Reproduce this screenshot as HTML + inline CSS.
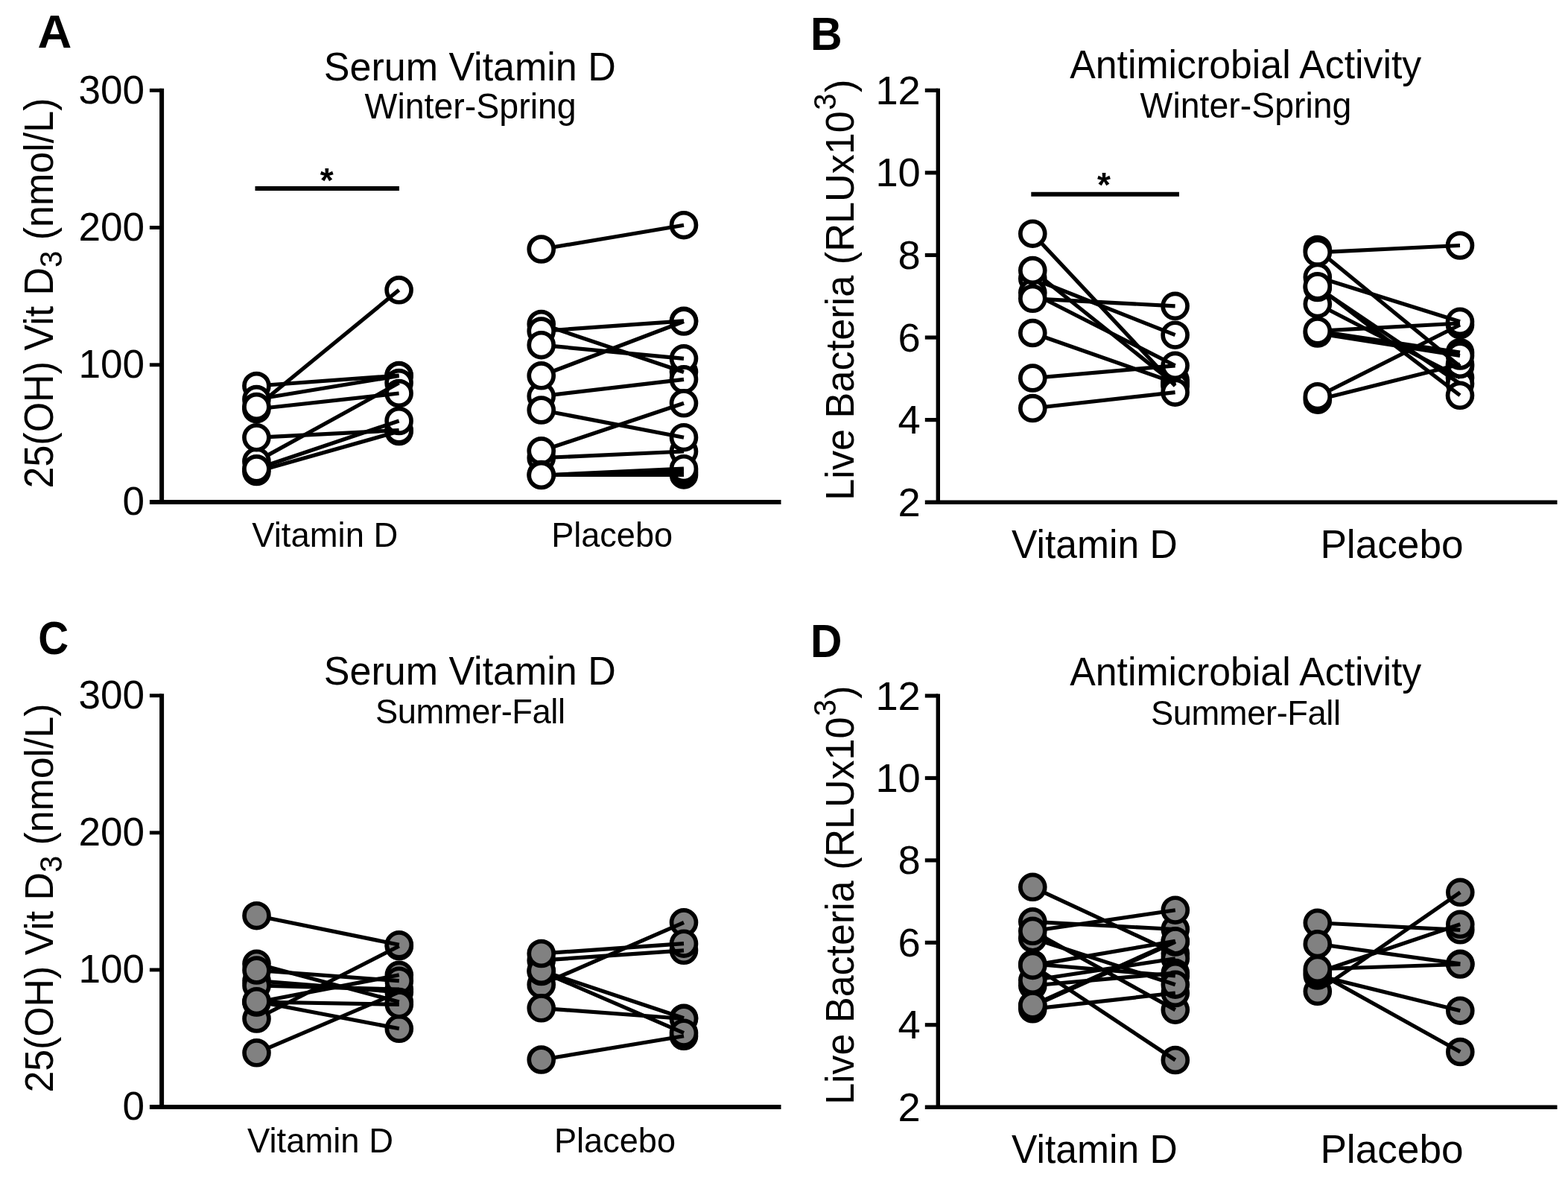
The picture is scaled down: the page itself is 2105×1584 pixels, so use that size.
<!DOCTYPE html>
<html lang="en"><head><meta charset="utf-8"><title>Serum Vitamin D and Antimicrobial Activity</title>
<style>html,body{margin:0;padding:0;background:#fff;}body{width:2105px;height:1584px;overflow:hidden;}svg{display:block;}text{font-family:'Liberation Sans', Arial, Helvetica, sans-serif;fill:#000;}</style></head><body>
<svg width="2105" height="1584" viewBox="0 0 2105 1584">
<rect x="0" y="0" width="2105" height="1584" fill="#ffffff"/>
<text transform="translate(50.6 64.2) scale(1.058 1.055)" font-size="60" text-anchor="start" font-weight="bold">A</text>
<text transform="translate(630.8 107.5) scale(1 1.03)" font-size="52" text-anchor="middle">Serum Vitamin D</text>
<text transform="translate(631.6 159.2) scale(1 1.02)" font-size="46.5" text-anchor="middle">Winter-Spring</text>
<g stroke="#000" fill="none" stroke-linecap="butt">
<line x1="217.1" y1="118.85" x2="217.1" y2="677" stroke-width="6"/>
<line x1="200.9" y1="674" x2="1048.5" y2="674" stroke-width="6"/>
<line x1="200.9" y1="121.3" x2="217.1" y2="121.3" stroke-width="4.9"/>
<line x1="200.9" y1="305.53" x2="217.1" y2="305.53" stroke-width="4.9"/>
<line x1="200.9" y1="489.77" x2="217.1" y2="489.77" stroke-width="4.9"/>
</g>
<text transform="translate(194.1 138.6)" font-size="53.1" text-anchor="end">300</text>
<text transform="translate(194.1 322.83)" font-size="53.1" text-anchor="end">200</text>
<text transform="translate(194.1 507.07)" font-size="53.1" text-anchor="end">100</text>
<text transform="translate(194.1 691.3)" font-size="53.1" text-anchor="end">0</text>
<text transform="translate(70.7 393.5) rotate(-90) scale(1 1.05)" font-size="52" text-anchor="middle">25(OH) Vit D<tspan font-size="40" dy="11.81">3</tspan><tspan dy="-11.81"> (nmol/L)</tspan></text>
<text transform="translate(436.3 733.5) scale(1 1.025)" font-size="45.4" text-anchor="middle">Vitamin D</text>
<text transform="translate(821.6 733.5) scale(1 1.01)" font-size="45.1" text-anchor="middle">Placebo</text>
<g stroke="#000" stroke-width="5.7" fill="#ffffff">
<circle cx="535.6" cy="389.3" r="16.45"/>
<circle cx="535.6" cy="504" r="16.45"/>
<circle cx="535.6" cy="504.5" r="16.45"/>
<circle cx="535.6" cy="514" r="16.45"/>
<circle cx="535.6" cy="528" r="16.45"/>
<circle cx="535.6" cy="579" r="16.45"/>
<circle cx="535.6" cy="577.5" r="16.45"/>
<circle cx="535.6" cy="565" r="16.45"/>
</g>
<g stroke="#000" stroke-width="5.2" fill="none" stroke-linecap="butt">
<line x1="344.4" y1="518" x2="535.6" y2="504"/>
<line x1="344.4" y1="546" x2="535.6" y2="389.3"/>
<line x1="344.4" y1="536" x2="535.6" y2="504.5"/>
<line x1="344.4" y1="549" x2="535.6" y2="528"/>
<line x1="344.4" y1="587.3" x2="535.6" y2="577.5"/>
<line x1="344.4" y1="619.4" x2="535.6" y2="514"/>
<line x1="344.4" y1="629.3" x2="535.6" y2="565"/>
<line x1="344.4" y1="633" x2="535.6" y2="579"/>
</g>
<g stroke="#000" stroke-width="5.7" fill="#ffffff">
<circle cx="344.4" cy="518" r="16.45"/>
<circle cx="344.4" cy="536" r="16.45"/>
<circle cx="344.4" cy="549" r="16.45"/>
<circle cx="344.4" cy="546" r="16.45"/>
<circle cx="344.4" cy="619.4" r="16.45"/>
<circle cx="344.4" cy="587.3" r="16.45"/>
<circle cx="344.4" cy="633" r="16.45"/>
<circle cx="344.4" cy="629.3" r="16.45"/>
</g>
<g stroke="#000" stroke-width="5.7" fill="#ffffff">
<circle cx="918" cy="302.2" r="16.45"/>
<circle cx="918" cy="430.8" r="16.45"/>
<circle cx="918" cy="431.5" r="16.45"/>
<circle cx="918" cy="499.5" r="16.45"/>
<circle cx="918" cy="481.3" r="16.45"/>
<circle cx="918" cy="509.3" r="16.45"/>
<circle cx="918" cy="541.3" r="16.45"/>
<circle cx="918" cy="606" r="16.45"/>
<circle cx="918" cy="587.2" r="16.45"/>
<circle cx="918" cy="637.4" r="16.45"/>
<circle cx="918" cy="633.4" r="16.45"/>
<circle cx="918" cy="629.2" r="16.45"/>
</g>
<g stroke="#000" stroke-width="5.2" fill="none" stroke-linecap="butt">
<line x1="726.7" y1="334.5" x2="918" y2="302.2"/>
<line x1="726.7" y1="444.5" x2="918" y2="430.8"/>
<line x1="726.7" y1="435" x2="918" y2="499.5"/>
<line x1="726.7" y1="463.2" x2="918" y2="481.3"/>
<line x1="726.7" y1="504.3" x2="918" y2="431.5"/>
<line x1="726.7" y1="531.8" x2="918" y2="509.3"/>
<line x1="726.7" y1="550.5" x2="918" y2="587.2"/>
<line x1="726.7" y1="605.3" x2="918" y2="541.3"/>
<line x1="726.7" y1="614.7" x2="918" y2="606"/>
<line x1="726.7" y1="638" x2="918" y2="629.2"/>
<line x1="726.7" y1="638" x2="918" y2="633.4"/>
<line x1="726.7" y1="637.5" x2="918" y2="637.4"/>
</g>
<g stroke="#000" stroke-width="5.7" fill="#ffffff">
<circle cx="726.7" cy="334.5" r="16.45"/>
<circle cx="726.7" cy="435" r="16.45"/>
<circle cx="726.7" cy="444.5" r="16.45"/>
<circle cx="726.7" cy="463.2" r="16.45"/>
<circle cx="726.7" cy="531.8" r="16.45"/>
<circle cx="726.7" cy="504.3" r="16.45"/>
<circle cx="726.7" cy="550.5" r="16.45"/>
<circle cx="726.7" cy="614.7" r="16.45"/>
<circle cx="726.7" cy="605.3" r="16.45"/>
<circle cx="726.7" cy="637" r="16.45"/>
<circle cx="726.7" cy="638" r="16.45"/>
</g>
<line x1="342.5" y1="253.1" x2="536" y2="253.1" stroke="#000" stroke-width="6"/>
<text transform="translate(438.8 257.5)" font-size="46" text-anchor="middle" font-weight="bold">*</text>
<text transform="translate(1088.05 67.25) scale(0.983 1.048)" font-size="60" text-anchor="start" font-weight="bold">B</text>
<text transform="translate(1672.2 105) scale(1 1.03)" font-size="51.8" text-anchor="middle">Antimicrobial Activity</text>
<text transform="translate(1672.5 157.85) scale(1 1.02)" font-size="46.45" text-anchor="middle">Winter-Spring</text>
<g stroke="#000" fill="none" stroke-linecap="butt">
<line x1="1259.3" y1="118.7" x2="1259.3" y2="676.9" stroke-width="5.4"/>
<line x1="1241.8" y1="674.2" x2="2090.5" y2="674.2" stroke-width="5.4"/>
<line x1="1241.8" y1="121.3" x2="1259.3" y2="121.3" stroke-width="5.2"/>
<line x1="1241.8" y1="231.88" x2="1259.3" y2="231.88" stroke-width="5.2"/>
<line x1="1241.8" y1="342.46" x2="1259.3" y2="342.46" stroke-width="5.2"/>
<line x1="1241.8" y1="453.04" x2="1259.3" y2="453.04" stroke-width="5.2"/>
<line x1="1241.8" y1="563.62" x2="1259.3" y2="563.62" stroke-width="5.2"/>
</g>
<text transform="translate(1235.8 139.9)" font-size="54.3" text-anchor="end">12</text>
<text transform="translate(1235.8 250.48)" font-size="54.3" text-anchor="end">10</text>
<text transform="translate(1235.8 361.06)" font-size="54.3" text-anchor="end">8</text>
<text transform="translate(1235.8 471.64)" font-size="54.3" text-anchor="end">6</text>
<text transform="translate(1235.8 582.22)" font-size="54.3" text-anchor="end">4</text>
<text transform="translate(1235.8 692.8)" font-size="54.3" text-anchor="end">2</text>
<text transform="translate(1146.4 389.2) rotate(-90) scale(1 1.04)" font-size="52.25" text-anchor="middle">Live Bacteria (RLUx10<tspan font-size="40" dx="1.4" dy="-23.37">3</tspan><tspan dx="1.4" dy="23.37">)</tspan></text>
<text transform="translate(1469.4 749.15) scale(1 1.03)" font-size="51.6" text-anchor="middle">Vitamin D</text>
<text transform="translate(1868.5 749.15)" font-size="53.2" text-anchor="middle">Placebo</text>
<g stroke="#000" stroke-width="5.7" fill="#ffffff">
<circle cx="1577.6" cy="410.8" r="16.45"/>
<circle cx="1577.6" cy="449.7" r="16.45"/>
<circle cx="1577.6" cy="510" r="16.45"/>
<circle cx="1577.6" cy="514" r="16.45"/>
<circle cx="1577.6" cy="516" r="16.45"/>
<circle cx="1577.6" cy="518" r="16.45"/>
<circle cx="1577.6" cy="490.8" r="16.45"/>
<circle cx="1577.6" cy="526.7" r="16.45"/>
</g>
<g stroke="#000" stroke-width="5.2" fill="none" stroke-linecap="butt">
<line x1="1386.3" y1="313.7" x2="1577.6" y2="518"/>
<line x1="1386.3" y1="363" x2="1577.6" y2="516"/>
<line x1="1386.3" y1="374" x2="1577.6" y2="449.7"/>
<line x1="1386.3" y1="393.5" x2="1577.6" y2="490.8"/>
<line x1="1386.3" y1="400.8" x2="1577.6" y2="410.8"/>
<line x1="1386.3" y1="447" x2="1577.6" y2="514"/>
<line x1="1386.3" y1="507.5" x2="1577.6" y2="490.8"/>
<line x1="1386.3" y1="548" x2="1577.6" y2="526.7"/>
</g>
<g stroke="#000" stroke-width="5.7" fill="#ffffff">
<circle cx="1386.3" cy="313.7" r="16.45"/>
<circle cx="1386.3" cy="374" r="16.45"/>
<circle cx="1386.3" cy="393" r="16.45"/>
<circle cx="1386.3" cy="363" r="16.45"/>
<circle cx="1386.3" cy="400.8" r="16.45"/>
<circle cx="1386.3" cy="447" r="16.45"/>
<circle cx="1386.3" cy="507.5" r="16.45"/>
<circle cx="1386.3" cy="548" r="16.45"/>
</g>
<g stroke="#000" stroke-width="5.7" fill="#ffffff">
<circle cx="1960" cy="329.5" r="16.45"/>
<circle cx="1960" cy="436" r="16.45"/>
<circle cx="1960" cy="431.8" r="16.45"/>
<circle cx="1960" cy="473" r="16.45"/>
<circle cx="1960" cy="491.7" r="16.45"/>
<circle cx="1960" cy="506.7" r="16.45"/>
<circle cx="1960" cy="515" r="16.45"/>
<circle cx="1960" cy="489" r="16.45"/>
<circle cx="1960" cy="477.5" r="16.45"/>
<circle cx="1960" cy="530.8" r="16.45"/>
</g>
<g stroke="#000" stroke-width="5.2" fill="none" stroke-linecap="butt">
<line x1="1768.8" y1="338.8" x2="1960" y2="329.5"/>
<line x1="1768.8" y1="335" x2="1960" y2="491.7"/>
<line x1="1768.8" y1="371.9" x2="1960" y2="431.8"/>
<line x1="1768.8" y1="384.4" x2="1960" y2="530.8"/>
<line x1="1768.8" y1="386" x2="1960" y2="515"/>
<line x1="1768.8" y1="408.1" x2="1960" y2="506.7"/>
<line x1="1768.8" y1="444.4" x2="1960" y2="434"/>
<line x1="1768.8" y1="444.4" x2="1960" y2="473"/>
<line x1="1768.8" y1="447.5" x2="1960" y2="477.5"/>
<line x1="1768.8" y1="532.2" x2="1960" y2="436"/>
<line x1="1768.8" y1="536.7" x2="1960" y2="489"/>
</g>
<g stroke="#000" stroke-width="5.7" fill="#ffffff">
<circle cx="1768.8" cy="335" r="16.45"/>
<circle cx="1768.8" cy="338.8" r="16.45"/>
<circle cx="1768.8" cy="371.9" r="16.45"/>
<circle cx="1768.8" cy="408.1" r="16.45"/>
<circle cx="1768.8" cy="386" r="16.45"/>
<circle cx="1768.8" cy="384.4" r="16.45"/>
<circle cx="1768.8" cy="447.5" r="16.45"/>
<circle cx="1768.8" cy="444.4" r="16.45"/>
<circle cx="1768.8" cy="536.7" r="16.45"/>
<circle cx="1768.8" cy="532.2" r="16.45"/>
</g>
<line x1="1384.3" y1="260.7" x2="1583" y2="260.7" stroke="#000" stroke-width="6"/>
<text transform="translate(1482 264)" font-size="46" text-anchor="middle" font-weight="bold">*</text>
<text transform="translate(51.35 877.5) scale(0.943 1.05)" font-size="60" text-anchor="start" font-weight="bold">C</text>
<text transform="translate(630.8 919) scale(1 1.03)" font-size="52" text-anchor="middle">Serum Vitamin D</text>
<text transform="translate(631.3 971.4) scale(1 1.02)" font-size="45.3" text-anchor="middle" letter-spacing="-0.4">Summer-Fall</text>
<g stroke="#000" fill="none" stroke-linecap="butt">
<line x1="217.1" y1="931.3" x2="217.1" y2="1489" stroke-width="6"/>
<line x1="200.9" y1="1486" x2="1048.5" y2="1486" stroke-width="6"/>
<line x1="200.9" y1="933.75" x2="217.1" y2="933.75" stroke-width="4.9"/>
<line x1="200.9" y1="1117.83" x2="217.1" y2="1117.83" stroke-width="4.9"/>
<line x1="200.9" y1="1301.92" x2="217.1" y2="1301.92" stroke-width="4.9"/>
</g>
<text transform="translate(194.1 951.05)" font-size="53.1" text-anchor="end">300</text>
<text transform="translate(194.1 1135.13)" font-size="53.1" text-anchor="end">200</text>
<text transform="translate(194.1 1319.22)" font-size="53.1" text-anchor="end">100</text>
<text transform="translate(194.1 1503.3)" font-size="53.1" text-anchor="end">0</text>
<text transform="translate(70.7 1205.5) rotate(-90) scale(1 1.05)" font-size="51.8" text-anchor="middle">25(OH) Vit D<tspan font-size="40" dy="11.81">3</tspan><tspan dy="-11.81"> (nmol/L)</tspan></text>
<text transform="translate(430 1546.5) scale(1 1.025)" font-size="45.4" text-anchor="middle">Vitamin D</text>
<text transform="translate(825.5 1546.5) scale(1 1.01)" font-size="45.1" text-anchor="middle">Placebo</text>
<g stroke="#000" stroke-width="5.7" fill="#818181">
<circle cx="535.8" cy="1270" r="16.45"/>
<circle cx="535.8" cy="1268.3" r="16.45"/>
<circle cx="535.8" cy="1308.8" r="16.45"/>
<circle cx="535.8" cy="1331.7" r="16.45"/>
<circle cx="535.8" cy="1328" r="16.45"/>
<circle cx="535.8" cy="1316.7" r="16.45"/>
<circle cx="535.8" cy="1345" r="16.45"/>
<circle cx="535.8" cy="1380.8" r="16.45"/>
<circle cx="535.8" cy="1348.3" r="16.45"/>
</g>
<g stroke="#000" stroke-width="5.2" fill="none" stroke-linecap="butt">
<line x1="344.5" y1="1229.2" x2="535.8" y2="1268.3"/>
<line x1="344.5" y1="1367.5" x2="535.8" y2="1270"/>
<line x1="344.5" y1="1413.3" x2="535.8" y2="1331.7"/>
<line x1="344.5" y1="1344.2" x2="535.8" y2="1380.8"/>
<line x1="344.5" y1="1345" x2="535.8" y2="1348.3"/>
<line x1="344.5" y1="1345.5" x2="535.8" y2="1308.8"/>
<line x1="344.5" y1="1302.5" x2="535.8" y2="1316.7"/>
<line x1="344.5" y1="1293.8" x2="535.8" y2="1345"/>
<line x1="344.5" y1="1316.7" x2="535.8" y2="1331.7"/>
<line x1="344.5" y1="1323" x2="535.8" y2="1328"/>
</g>
<g stroke="#000" stroke-width="5.7" fill="#818181">
<circle cx="344.5" cy="1229.2" r="16.45"/>
<circle cx="344.5" cy="1293.8" r="16.45"/>
<circle cx="344.5" cy="1316.7" r="16.45"/>
<circle cx="344.5" cy="1323" r="16.45"/>
<circle cx="344.5" cy="1302.5" r="16.45"/>
<circle cx="344.5" cy="1367.5" r="16.45"/>
<circle cx="344.5" cy="1345.5" r="16.45"/>
<circle cx="344.5" cy="1345" r="16.45"/>
<circle cx="344.5" cy="1344.2" r="16.45"/>
<circle cx="344.5" cy="1413.3" r="16.45"/>
</g>
<g stroke="#000" stroke-width="5.7" fill="#818181">
<circle cx="918" cy="1238.3" r="16.45"/>
<circle cx="918" cy="1275.8" r="16.45"/>
<circle cx="918" cy="1266.7" r="16.45"/>
<circle cx="918" cy="1366.7" r="16.45"/>
<circle cx="918" cy="1367.5" r="16.45"/>
<circle cx="918" cy="1390.8" r="16.45"/>
<circle cx="918" cy="1386.7" r="16.45"/>
</g>
<g stroke="#000" stroke-width="5.2" fill="none" stroke-linecap="butt">
<line x1="726.7" y1="1280" x2="918" y2="1266.7"/>
<line x1="726.7" y1="1289.2" x2="918" y2="1275.8"/>
<line x1="726.7" y1="1321.7" x2="918" y2="1238.3"/>
<line x1="726.7" y1="1303" x2="918" y2="1366.7"/>
<line x1="726.7" y1="1304" x2="918" y2="1386.7"/>
<line x1="726.7" y1="1353.3" x2="918" y2="1367.5"/>
<line x1="726.7" y1="1422.5" x2="918" y2="1390.8"/>
</g>
<g stroke="#000" stroke-width="5.7" fill="#818181">
<circle cx="726.7" cy="1321.7" r="16.45"/>
<circle cx="726.7" cy="1289.2" r="16.45"/>
<circle cx="726.7" cy="1304" r="16.45"/>
<circle cx="726.7" cy="1303" r="16.45"/>
<circle cx="726.7" cy="1280" r="16.45"/>
<circle cx="726.7" cy="1353.3" r="16.45"/>
<circle cx="726.7" cy="1422.5" r="16.45"/>
</g>
<text transform="translate(1088.05 881.7) scale(0.98 1.05)" font-size="60" text-anchor="start" font-weight="bold">D</text>
<text transform="translate(1672.2 920.3) scale(1 1.03)" font-size="51.8" text-anchor="middle">Antimicrobial Activity</text>
<text transform="translate(1672.3 972.7) scale(1 1.03)" font-size="45.3" text-anchor="middle" letter-spacing="-0.4">Summer-Fall</text>
<g stroke="#000" fill="none" stroke-linecap="butt">
<line x1="1259.3" y1="931.4" x2="1259.3" y2="1488.9" stroke-width="5.4"/>
<line x1="1241.8" y1="1486.2" x2="2090.5" y2="1486.2" stroke-width="5.4"/>
<line x1="1241.8" y1="934" x2="1259.3" y2="934" stroke-width="5.2"/>
<line x1="1241.8" y1="1044.44" x2="1259.3" y2="1044.44" stroke-width="5.2"/>
<line x1="1241.8" y1="1154.88" x2="1259.3" y2="1154.88" stroke-width="5.2"/>
<line x1="1241.8" y1="1265.32" x2="1259.3" y2="1265.32" stroke-width="5.2"/>
<line x1="1241.8" y1="1375.76" x2="1259.3" y2="1375.76" stroke-width="5.2"/>
</g>
<text transform="translate(1235.8 952.6)" font-size="54.3" text-anchor="end">12</text>
<text transform="translate(1235.8 1063.04)" font-size="54.3" text-anchor="end">10</text>
<text transform="translate(1235.8 1173.48)" font-size="54.3" text-anchor="end">8</text>
<text transform="translate(1235.8 1283.92)" font-size="54.3" text-anchor="end">6</text>
<text transform="translate(1235.8 1394.36)" font-size="54.3" text-anchor="end">4</text>
<text transform="translate(1235.8 1504.8)" font-size="54.3" text-anchor="end">2</text>
<text transform="translate(1146.4 1201.6) rotate(-90) scale(1 1.04)" font-size="52" text-anchor="middle">Live Bacteria (RLUx10<tspan font-size="40" dx="1.4" dy="-23.37">3</tspan><tspan dx="1.4" dy="23.37">)</tspan></text>
<text transform="translate(1469.4 1560.9) scale(1 1.03)" font-size="51.6" text-anchor="middle">Vitamin D</text>
<text transform="translate(1868.5 1560.9)" font-size="53.2" text-anchor="middle">Placebo</text>
<g stroke="#000" stroke-width="5.7" fill="#818181">
<circle cx="1577.8" cy="1247.5" r="16.45"/>
<circle cx="1577.8" cy="1221.7" r="16.45"/>
<circle cx="1577.8" cy="1280" r="16.45"/>
<circle cx="1577.8" cy="1286.7" r="16.45"/>
<circle cx="1577.8" cy="1264.5" r="16.45"/>
<circle cx="1577.8" cy="1263.3" r="16.45"/>
<circle cx="1577.8" cy="1355.6" r="16.45"/>
<circle cx="1577.8" cy="1306" r="16.45"/>
<circle cx="1577.8" cy="1310" r="16.45"/>
<circle cx="1577.8" cy="1333" r="16.45"/>
<circle cx="1577.8" cy="1321.7" r="16.45"/>
<circle cx="1577.8" cy="1423" r="16.45"/>
</g>
<g stroke="#000" stroke-width="5.2" fill="none" stroke-linecap="butt">
<line x1="1386.3" y1="1190.8" x2="1577.8" y2="1280"/>
<line x1="1386.3" y1="1237.3" x2="1577.8" y2="1247.5"/>
<line x1="1386.3" y1="1249.8" x2="1577.8" y2="1221.7"/>
<line x1="1386.3" y1="1249.8" x2="1577.8" y2="1355.6"/>
<line x1="1386.3" y1="1259.5" x2="1577.8" y2="1321.7"/>
<line x1="1386.3" y1="1295.9" x2="1577.8" y2="1263.3"/>
<line x1="1386.3" y1="1294" x2="1577.8" y2="1310"/>
<line x1="1386.3" y1="1315.8" x2="1577.8" y2="1286.7"/>
<line x1="1386.3" y1="1295.9" x2="1577.8" y2="1423"/>
<line x1="1386.3" y1="1323" x2="1577.8" y2="1306"/>
<line x1="1386.3" y1="1349.3" x2="1577.8" y2="1263.3"/>
<line x1="1386.3" y1="1351" x2="1577.8" y2="1264.5"/>
<line x1="1386.3" y1="1354.3" x2="1577.8" y2="1333"/>
</g>
<g stroke="#000" stroke-width="5.7" fill="#818181">
<circle cx="1386.3" cy="1190.8" r="16.45"/>
<circle cx="1386.3" cy="1237.3" r="16.45"/>
<circle cx="1386.3" cy="1259.5" r="16.45"/>
<circle cx="1386.3" cy="1249.8" r="16.45"/>
<circle cx="1386.3" cy="1323" r="16.45"/>
<circle cx="1386.3" cy="1315.8" r="16.45"/>
<circle cx="1386.3" cy="1294" r="16.45"/>
<circle cx="1386.3" cy="1295.9" r="16.45"/>
<circle cx="1386.3" cy="1354.3" r="16.45"/>
<circle cx="1386.3" cy="1351" r="16.45"/>
<circle cx="1386.3" cy="1349.3" r="16.45"/>
</g>
<g stroke="#000" stroke-width="5.7" fill="#818181">
<circle cx="1960.3" cy="1197.8" r="16.45"/>
<circle cx="1960.3" cy="1248.3" r="16.45"/>
<circle cx="1960.3" cy="1240.8" r="16.45"/>
<circle cx="1960.3" cy="1293.8" r="16.45"/>
<circle cx="1960.3" cy="1294.5" r="16.45"/>
<circle cx="1960.3" cy="1356.7" r="16.45"/>
<circle cx="1960.3" cy="1412" r="16.45"/>
</g>
<g stroke="#000" stroke-width="5.2" fill="none" stroke-linecap="butt">
<line x1="1768.8" y1="1238.8" x2="1960.3" y2="1248.3"/>
<line x1="1768.8" y1="1267.2" x2="1960.3" y2="1293.8"/>
<line x1="1768.8" y1="1305.3" x2="1960.3" y2="1240.8"/>
<line x1="1768.8" y1="1300.8" x2="1960.3" y2="1294.5"/>
<line x1="1768.8" y1="1330.8" x2="1960.3" y2="1197.8"/>
<line x1="1768.8" y1="1309.5" x2="1960.3" y2="1356.7"/>
<line x1="1768.8" y1="1305.3" x2="1960.3" y2="1412"/>
</g>
<g stroke="#000" stroke-width="5.7" fill="#818181">
<circle cx="1768.8" cy="1238.8" r="16.45"/>
<circle cx="1768.8" cy="1330.8" r="16.45"/>
<circle cx="1768.8" cy="1309.5" r="16.45"/>
<circle cx="1768.8" cy="1305.3" r="16.45"/>
<circle cx="1768.8" cy="1267.2" r="16.45"/>
<circle cx="1768.8" cy="1300.8" r="16.45"/>
</g>
</svg>
</body></html>
